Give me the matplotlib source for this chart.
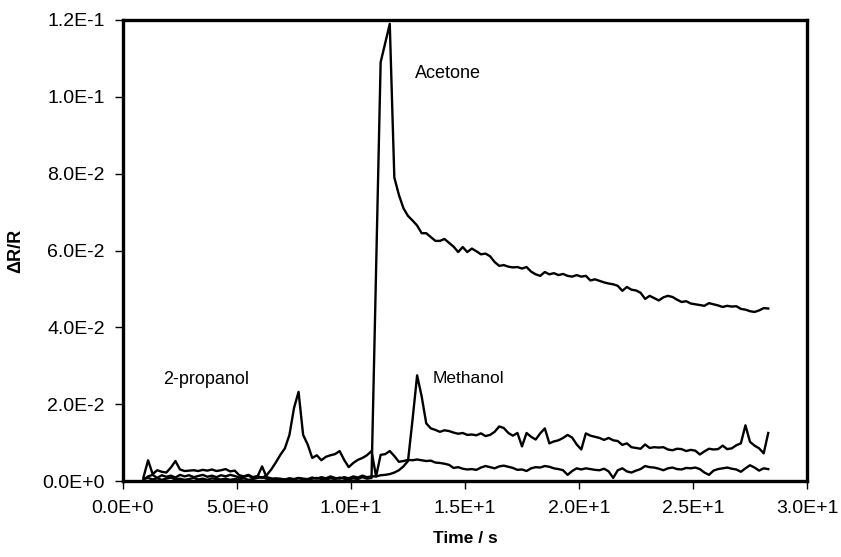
import numpy as np
import matplotlib
matplotlib.use("Agg")
import matplotlib.pyplot as plt
from matplotlib.ticker import FuncFormatter

# sample times (s): 0.9 .. 28.3 every 0.2 s
time_s = np.round(np.arange(0.9, 28.31, 0.2), 2)

acetone = [
    0.0006, 0.0008, 0.0004, 0.0007, 0.0003, 0.0006, 0.0009, 0.0004, 0.0006, 0.0003,
    0.0005, 0.0008, 0.0004, 0.0006, 0.0003, 0.0007, 0.0005, 0.0004, 0.0006, 0.0003,
    0.0005, 0.0004, 0.0007, 0.0003, 0.0005, 0.0008, 0.0010, 0.0006, 0.0004, 0.0007,
    0.0005, 0.0003, 0.0006, 0.0004, 0.0007, 0.0005, 0.0004, 0.0006, 0.0008, 0.0005,
    0.0004, 0.0007, 0.0005, 0.0009, 0.0006, 0.0004, 0.0007, 0.0005, 0.0010, 0.0006,
    0.0008, 0.0550, 0.1090, 0.1140, 0.1190, 0.0790, 0.0745, 0.0710, 0.0690, 0.0678,
    0.0665, 0.0645, 0.0645, 0.0635, 0.0625, 0.0625, 0.0630, 0.0620, 0.0610, 0.0596,
    0.0609, 0.0596, 0.0605, 0.0598, 0.0590, 0.0592, 0.0585, 0.0570, 0.0560, 0.0562,
    0.0558, 0.0556, 0.0557, 0.0553, 0.0557, 0.0545, 0.0538, 0.0534, 0.0544, 0.0538,
    0.0541, 0.0536, 0.0539, 0.0534, 0.0532, 0.0536, 0.0532, 0.0534, 0.0522, 0.0525,
    0.0521, 0.0517, 0.0514, 0.0512, 0.0508, 0.0495, 0.0505, 0.0498, 0.0496, 0.0490,
    0.0474, 0.0482, 0.0476, 0.0470, 0.0478, 0.0482, 0.0479, 0.0472, 0.0466, 0.0468,
    0.0462, 0.0460, 0.0458, 0.0456, 0.0463, 0.0460, 0.0457, 0.0453, 0.0456, 0.0454,
    0.0455, 0.0448, 0.0446, 0.0442, 0.0440, 0.0444, 0.0450, 0.0449,
]

propanol = [
    0.0010, 0.0054, 0.0018, 0.0028, 0.0024, 0.0022, 0.0035, 0.0052, 0.0030, 0.0026,
    0.0027, 0.0028, 0.0026, 0.0029, 0.0027, 0.0030, 0.0026, 0.0028, 0.0031, 0.0025,
    0.0027, 0.0015, 0.0012, 0.0016, 0.0010, 0.0013, 0.0008, 0.0015, 0.0030, 0.0048,
    0.0068, 0.0085, 0.0120, 0.0190, 0.0232, 0.0120, 0.0095, 0.0060, 0.0067, 0.0054,
    0.0063, 0.0067, 0.0070, 0.0078, 0.0055, 0.0036, 0.0047, 0.0055, 0.0060, 0.0067,
    0.0078, 0.0012, 0.0068, 0.0070, 0.0078, 0.0065, 0.0050, 0.0052, 0.0055, 0.0054,
    0.0056, 0.0054, 0.0052, 0.0053, 0.0048, 0.0047, 0.0045, 0.0042, 0.0034, 0.0036,
    0.0032, 0.0030, 0.0031, 0.0029, 0.0035, 0.0039, 0.0036, 0.0033, 0.0038, 0.0040,
    0.0037, 0.0034, 0.0029, 0.0030, 0.0026, 0.0033, 0.0036, 0.0035, 0.0039, 0.0037,
    0.0033, 0.0031, 0.0028, 0.0016, 0.0026, 0.0033, 0.0030, 0.0033, 0.0031, 0.0029,
    0.0028, 0.0032, 0.0025, 0.0008, 0.0028, 0.0033, 0.0025, 0.0022, 0.0027, 0.0031,
    0.0039, 0.0036, 0.0035, 0.0032, 0.0028, 0.0033, 0.0035, 0.0031, 0.0030, 0.0034,
    0.0033, 0.0035, 0.0031, 0.0022, 0.0016, 0.0027, 0.0031, 0.0033, 0.0035, 0.0032,
    0.0030, 0.0024, 0.0033, 0.0041, 0.0035, 0.0027, 0.0033, 0.0031,
]

methanol = [
    0.0003, 0.0012, 0.0016, 0.0008, 0.0015, 0.0011, 0.0014, 0.0009, 0.0016, 0.0012,
    0.0015, 0.0010, 0.0013, 0.0016, 0.0011, 0.0014, 0.0010, 0.0015, 0.0012, 0.0016,
    0.0013, 0.0009, 0.0011, 0.0014, 0.0008, 0.0012, 0.0038, 0.0010, 0.0007, 0.0005,
    0.0006, 0.0004, 0.0007, 0.0005, 0.0008, 0.0006, 0.0005, 0.0009, 0.0006, 0.0010,
    0.0007, 0.0012, 0.0008, 0.0006, 0.0010, 0.0007, 0.0012, 0.0009, 0.0014, 0.0010,
    0.0012, 0.0012, 0.0015, 0.0016, 0.0018, 0.0022, 0.0028, 0.0038, 0.0052, 0.0160,
    0.0275, 0.0220, 0.0150, 0.0137, 0.0133, 0.0128, 0.0132, 0.0130, 0.0126, 0.0123,
    0.0125, 0.0120, 0.0121, 0.0119, 0.0124, 0.0117, 0.0120, 0.0128, 0.0142, 0.0138,
    0.0125, 0.0118, 0.0125, 0.0090, 0.0125, 0.0115, 0.0108, 0.0124, 0.0137, 0.0098,
    0.0103, 0.0106, 0.0112, 0.0120, 0.0113, 0.0095, 0.0082, 0.0124, 0.0118, 0.0115,
    0.0112, 0.0107, 0.0112, 0.0106, 0.0104, 0.0094, 0.0098, 0.0088, 0.0086, 0.0084,
    0.0095, 0.0086, 0.0088, 0.0087, 0.0088, 0.0082, 0.0080, 0.0084, 0.0083, 0.0078,
    0.0081, 0.0079, 0.0069, 0.0077, 0.0084, 0.0082, 0.0083, 0.0092, 0.0083, 0.0085,
    0.0093, 0.0098, 0.0145, 0.0102, 0.0092, 0.0085, 0.0072, 0.0125,
]

x_ticks = [0, 5, 10, 15, 20, 25, 30]
y_ticks = [0.0, 0.02, 0.04, 0.06, 0.08, 0.10, 0.12]

plt.rcParams['font.family'] = ['Liberation Sans', 'DejaVu Sans']

fig = plt.figure(figsize=(8.41, 5.57), dpi=100)
ax = fig.add_axes([123 / 841, 1 - 481 / 557, (807 - 123) / 841, (481 - 20) / 557])

for series in (acetone, propanol, methanol):
    ax.plot(time_s, series, color='black', lw=1.7, solid_joinstyle='round')

ax.set_xlim(0, 30)
ax.set_ylim(0, 0.12)
ax.set_xticks(x_ticks)
ax.set_yticks(y_ticks)


def sci(v, pos):
    if v == 0:
        return "0.0E+0"
    e = int(np.floor(np.log10(abs(v)) + 1e-9))
    m = v / 10 ** e
    return f"{m:.1f}E{'+' if e >= 0 else '-'}{abs(e)}"


ax.xaxis.set_major_formatter(FuncFormatter(sci))
ax.yaxis.set_major_formatter(FuncFormatter(sci))
ax.tick_params(direction='out', length=6, width=1, labelsize=14)
ax.tick_params(axis='x', pad=8)
ax.tick_params(axis='y', pad=7)
for s in ax.spines.values():
    s.set_linewidth(2.4)

ax.set_xlabel("Time / s", fontsize=12.5, fontweight='bold', labelpad=10)
ax.set_ylabel("ΔR/R", fontsize=13, fontweight='bold', labelpad=13)

ax.text(12.8, 0.106, "Acetone", fontsize=13, ha='left', va='center')
ax.text(1.75, 0.0263, "2-propanol", fontsize=13, ha='left', va='center')
ax.text(13.6, 0.0268, "Methanol", fontsize=12.5, ha='left', va='center')

fig.savefig("out.png", dpi=100)
